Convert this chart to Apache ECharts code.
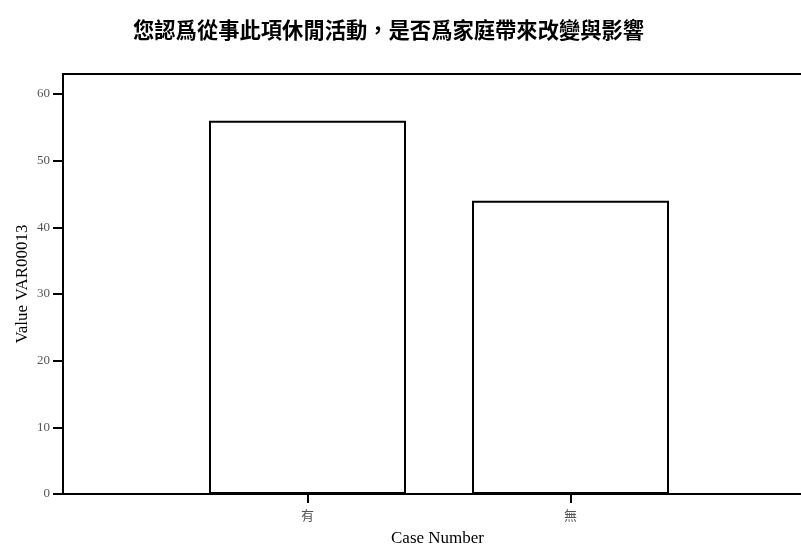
<!DOCTYPE html>
<html><head><meta charset="utf-8">
<script src="https://cdn.jsdelivr.net/npm/echarts@6/dist/echarts.min.js"></script>
<style>html,body{margin:0;padding:0;background:#fff}#c{width:801px;height:544px}</style>
</head><body><div id="c"></div>
<script>
const titleText = '您認爲從事此項休閒活動，是否爲家庭帶來改變與影響';
const categories = ['有', '無'];
const values = [56, 44];
const yTicks = [0, 10, 20, 30, 40, 50, 60];
const yName = 'Value VAR00013';
const xName = 'Case Number';

const chart = echarts.init(document.getElementById('c'), null, {renderer: 'canvas'});
const serif = '"Liberation Serif", "DejaVu Serif", serif';
chart.setOption({
  backgroundColor: '#fff',
  animation: false,
  title: {
    text: titleText, left: 128, top: 14,
    textStyle: {fontFamily: '"Noto Sans CJK TC", sans-serif', fontWeight: 'bold', fontSize: 21.3, color: '#000'}
  },
  grid: [
    {left: 63, right: -11, top: 74, bottom: 50, containLabel: false, outerBoundsMode: 'none',
     show: true, borderColor: '#000', borderWidth: 2, backgroundColor: 'transparent'},
    {left: 176, width: 526, top: 74, bottom: 50, containLabel: false, outerBoundsMode: 'none'}
  ],
  xAxis: [
    {gridIndex: 0, type: 'value', min: 0, max: 1, axisLine: {show: true, lineStyle: {color: '#000', width: 2}},
     axisTick: {show: false}, axisLabel: {show: false}, splitLine: {show: false},
     name: xName, nameLocation: 'middle', nameGap: 36,
     nameTextStyle: {fontFamily: serif, fontSize: 17, color: '#000'}},
    {gridIndex: 1, type: 'category', data: categories, axisLine: {show: false},
     axisTick: {show: true, alignWithLabel: true, length: 9, lineStyle: {color: '#000', width: 2}},
     axisLabel: {margin: 15, fontFamily: '"Noto Sans CJK TC", sans-serif', fontSize: 13, color: '#555'}}
  ],
  yAxis: [
    {gridIndex: 0, type: 'value', min: 0, max: 63,
     axisLine: {show: true, lineStyle: {color: '#000', width: 2}},
     axisTick: {show: true, length: 10, customValues: yTicks, lineStyle: {color: '#000', width: 2}},
     axisLabel: {margin: 13, customValues: yTicks, fontFamily: serif, fontSize: 13, color: '#555'},
     splitLine: {show: false},
     name: yName, nameLocation: 'middle', nameGap: 32, nameRotate: 90, nameMoveOverlap: false,
     nameTextStyle: {fontFamily: serif, fontSize: 17, color: '#000'}},
    {gridIndex: 1, type: 'value', min: 0, max: 63, show: false, splitLine: {show: false}}
  ],
  series: [{
    type: 'bar', xAxisIndex: 1, yAxisIndex: 1, data: values, barWidth: 197,
    itemStyle: {color: '#fff', borderColor: '#000', borderWidth: 2}
  }]
});
</script></body></html>
